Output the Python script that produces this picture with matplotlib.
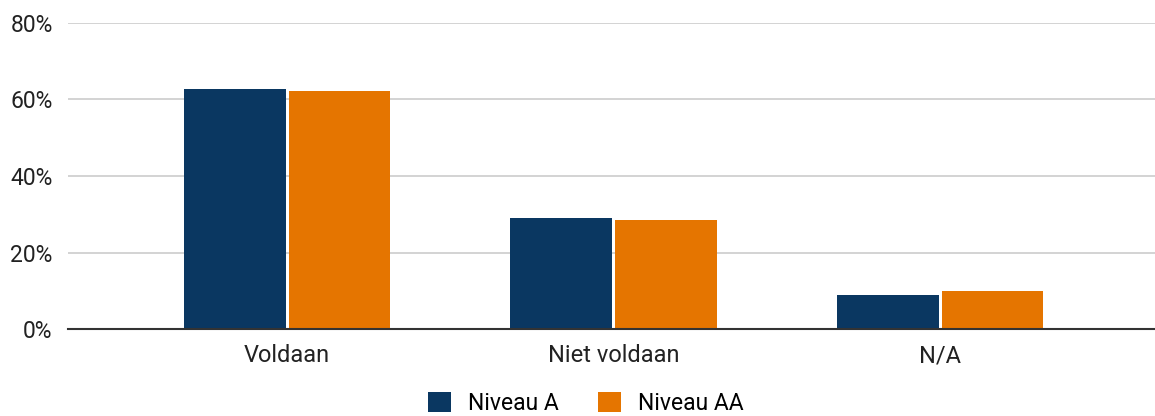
import numpy as np
import matplotlib
matplotlib.use('Agg')
import matplotlib.pyplot as plt
from matplotlib.patches import Patch

plt.rcParams['font.family'] = ['Roboto', 'DejaVu Sans']

categories = ['Voldaan', 'Niet voldaan', 'N/A']
niveau_a = [62.8, 29.0, 8.9]
niveau_aa = [62.3, 28.5, 9.9]
series_names = ['Niveau A', 'Niveau AA']
colors = ['#0a3761', '#e57500']
yticks = [0, 20, 40, 60, 80]

fig = plt.figure(figsize=(11.55, 4.16), dpi=100)
ax = fig.add_axes([68 / 1155, 0.209, 1 - 68 / 1155, 0.945 - 0.209])

x = np.arange(len(categories))
w = 0.312
gap = 0.009
ax.bar(x - w / 2 - gap / 2, niveau_a, w, color=colors[0], zorder=3)
ax.bar(x + w / 2 + gap / 2, niveau_aa, w, color=colors[1], zorder=3)

ax.set_xlim(-0.671, 2.658)
ax.set_ylim(0, 80)
ax.set_yticks(yticks)
ax.set_yticklabels([f'{t}%' for t in yticks], fontsize=16.5, color='#222222')
ax.set_xticks(x)
ax.set_xticklabels(categories, fontsize=17, color='#222222')
ax.tick_params(axis='both', length=0)
ax.tick_params(axis='x', pad=11)
ax.tick_params(axis='y', pad=11)
ax.grid(axis='y', color='#cccccc', linewidth=1.2, zorder=0)
for s in ['top', 'right', 'left']:
    ax.spines[s].set_visible(False)
ax.spines['bottom'].set_color('#333333')
ax.spines['bottom'].set_linewidth(1.5)
ax.spines['bottom'].set_zorder(4)

handles = [Patch(facecolor=c, edgecolor='none') for c in colors]
fig.legend(handles, series_names, loc='center', bbox_to_anchor=(0.507, 0.031),
           ncol=2, frameon=False, fontsize=16.5, handlelength=1.0, handleheight=1.0,
           columnspacing=1.7, handletextpad=0.75, borderpad=0)

fig.savefig('out.png', dpi=100)
